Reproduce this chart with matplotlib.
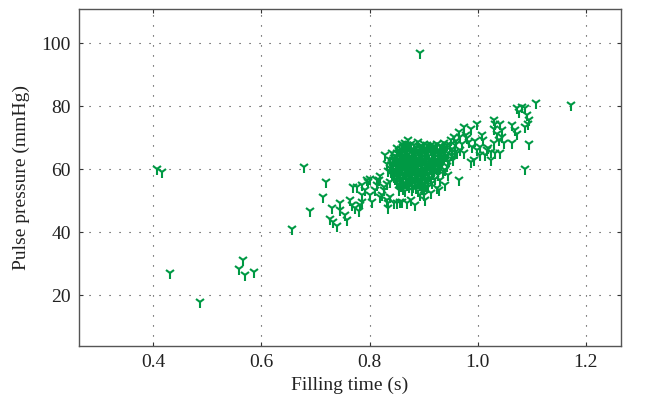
import matplotlib
matplotlib.use('Agg')
import matplotlib.pyplot as plt

# isolated points far from the main cloud
outlier_x = [0.407, 0.416, 0.431, 0.486, 0.559, 0.565, 0.569, 0.586, 0.656, 0.678, 0.894, 1.108, 1.172, 1.087]
outlier_y = [59.9, 59.0, 27.1, 17.7, 28.3, 31.1, 26.4, 27.4, 41.0, 60.7, 96.8, 81.1, 80.3, 60.2]

# lower-left branch leading into the cloud
branch_x = [0.690, 0.714, 0.719, 0.730, 0.746, 0.746, 0.727, 0.733, 0.739, 0.755, 0.758, 0.767, 0.764,
            0.773, 0.780, 0.783, 0.786, 0.776, 0.786, 0.795, 0.801, 0.804, 0.810, 0.813, 0.817, 0.820,
            0.832, 0.838, 0.851, 0.857, 0.869, 0.835, 0.854, 0.832, 0.838, 0.786, 0.792, 0.770, 0.798,
            0.823, 0.826, 0.844, 0.851, 0.828, 0.801, 0.813, 0.826, 0.820, 0.835, 0.845, 0.860, 0.876,
            0.885, 0.900, 0.913, 0.928, 0.940, 0.903, 0.894, 0.924, 0.946, 0.931, 0.872, 0.869, 0.866]
branch_y = [46.8, 51.0, 56.0, 47.5, 49.3, 47.0, 44.3, 43.3, 41.9, 45.4, 43.8, 48.6, 50.2,
            47.5, 46.8, 48.6, 49.6, 54.4, 54.9, 56.5, 51.7, 49.6, 53.3, 54.9, 56.5, 57.8,
            50.2, 51.2, 49.1, 49.6, 49.1, 47.5, 53.3, 55.4, 56.0, 51.7, 53.3, 54.4, 56.0,
            51.7, 53.3, 58.6, 59.1, 64.4, 57.0, 56.5, 54.4, 51.2, 49.1, 49.1, 49.7, 50.2,
            48.6, 51.8, 52.3, 53.4, 55.0, 50.2, 51.7, 53.9, 58.1, 56.5, 69.2, 67.6, 67.1]

# dense core of the cloud
core_x = [0.866, 0.877, 0.889, 0.901, 0.913,
          0.858, 0.869, 0.881, 0.893, 0.905, 0.917, 0.929, 0.940,
          0.850, 0.861, 0.872, 0.884, 0.896, 0.908, 0.921, 0.933, 0.946,
          0.845, 0.856, 0.867, 0.879, 0.890, 0.902, 0.914, 0.926, 0.938,
          0.841, 0.852, 0.864, 0.875, 0.887, 0.898, 0.910, 0.922, 0.934,
          0.838, 0.849, 0.860, 0.872, 0.883, 0.895, 0.906, 0.918, 0.929,
          0.840, 0.851, 0.862, 0.874, 0.885, 0.897, 0.908, 0.920,
          0.845, 0.856, 0.867, 0.879, 0.890, 0.902, 0.913,
          0.851, 0.862, 0.873, 0.885, 0.897, 0.908,
          0.858, 0.869, 0.881, 0.893, 0.904,
          0.866, 0.878, 0.890,
          0.872, 0.883, 0.895, 0.907, 0.919, 0.931,
          0.855, 0.866, 0.878, 0.890, 0.902, 0.914, 0.926, 0.938,
          0.848, 0.859, 0.870, 0.882, 0.893, 0.905, 0.917, 0.929, 0.941,
          0.843, 0.854, 0.865, 0.877, 0.888, 0.900, 0.912, 0.924, 0.935,
          0.839, 0.850, 0.862, 0.873, 0.885, 0.896, 0.908, 0.920, 0.931,
          0.843, 0.854, 0.866, 0.877, 0.889, 0.900, 0.912, 0.924,
          0.842, 0.853, 0.865, 0.876, 0.888, 0.899, 0.911, 0.917,
          0.848, 0.859, 0.871, 0.882, 0.894, 0.905,
          0.855, 0.866, 0.878, 0.889, 0.901,
          0.862, 0.874, 0.886, 0.897,
          0.952, 0.955, 0.948, 0.943, 0.936, 0.927, 0.921, 0.915, 0.908, 0.900,
          0.835, 0.833, 0.838, 0.842, 0.850, 0.860, 0.925, 0.937, 0.949, 0.958]
core_y = [68.4, 67.9, 68.6, 68.0, 67.7,
          66.5, 66.9, 66.3, 67.0, 66.6, 66.8, 66.2, 66.9,
          65.0, 65.4, 64.9, 65.5, 65.1, 65.3, 64.8, 65.4, 65.0,
          63.5, 63.9, 63.4, 64.0, 63.6, 63.8, 63.3, 63.9, 63.5,
          62.0, 62.4, 61.9, 62.5, 62.1, 62.3, 61.8, 62.4, 62.0,
          60.5, 60.9, 60.4, 61.0, 60.6, 60.8, 60.3, 60.9, 60.5,
          59.0, 59.4, 58.9, 59.5, 59.1, 59.3, 58.8, 59.4,
          57.5, 57.9, 57.4, 58.0, 57.6, 57.8, 57.3,
          56.0, 56.4, 55.9, 56.5, 56.1, 56.3,
          54.5, 54.9, 54.4, 55.0, 54.6,
          53.1, 53.5, 53.0,
          67.3, 67.7, 67.4, 67.6, 67.2, 67.5,
          65.8, 66.1, 65.9, 66.2, 65.7, 66.0, 65.8, 66.1,
          64.3, 64.7, 64.4, 64.6, 64.2, 64.7, 64.4, 64.5, 64.3,
          62.8, 63.2, 62.9, 63.1, 62.7, 63.2, 62.9, 63.0, 62.8,
          61.3, 61.7, 61.4, 61.6, 61.2, 61.7, 61.4, 61.5, 61.3,
          59.8, 60.2, 59.9, 60.1, 59.7, 60.2, 59.9, 60.0,
          58.3, 58.7, 58.4, 58.6, 58.2, 58.7, 58.4, 58.5,
          56.8, 57.2, 56.9, 57.1, 56.7, 57.2,
          55.3, 55.7, 55.4, 55.6, 55.2,
          53.8, 54.2, 53.9, 54.1,
          66.5, 64.0, 62.5, 61.0, 59.5, 58.2, 57.0, 55.5, 54.2, 53.0,
          59.5, 61.5, 63.0, 65.0, 66.8, 68.0, 68.0, 68.2, 67.8, 65.6]

# extra points filling the gaps inside the core
fill_x = [0.862, 0.874, 0.886, 0.898, 0.910, 0.922, 0.934,
          0.856, 0.867, 0.879, 0.891, 0.903, 0.915, 0.927, 0.939,
          0.851, 0.862, 0.874, 0.886, 0.898, 0.910, 0.922, 0.934,
          0.846, 0.858, 0.869, 0.881, 0.893, 0.905, 0.917, 0.929,
          0.843, 0.855, 0.867, 0.878, 0.890, 0.902, 0.914, 0.926,
          0.846, 0.858, 0.869, 0.881, 0.893, 0.905, 0.916,
          0.850, 0.862, 0.873, 0.885, 0.897, 0.909,
          0.856, 0.868, 0.879, 0.891, 0.903,
          0.862, 0.874, 0.886, 0.898]
fill_y = [67.0, 67.2, 66.9, 67.3, 67.0, 66.8, 67.1,
          65.5, 65.7, 65.4, 65.8, 65.5, 65.6, 65.3, 65.7,
          64.0, 64.2, 63.9, 64.3, 64.0, 64.1, 63.8, 64.2,
          62.5, 62.7, 62.4, 62.8, 62.5, 62.6, 62.3, 62.7,
          61.0, 61.2, 60.9, 61.3, 61.0, 61.1, 60.8, 61.2,
          59.5, 59.7, 59.4, 59.8, 59.5, 59.6, 59.3,
          58.0, 58.2, 57.9, 58.3, 58.0, 58.1,
          56.5, 56.7, 56.4, 56.8, 56.5,
          55.0, 55.2, 54.9, 55.3]

# upper-right tail of the cloud
tail_x = [1.073, 1.082, 1.076, 1.088, 1.091, 1.096, 1.093, 1.088, 1.064, 1.070, 1.073, 1.095, 1.064,
          1.030, 1.033, 1.042, 1.045, 1.036, 1.030, 1.039, 1.045, 1.048, 1.030, 1.024, 1.033, 1.042,
          1.024, 1.020, 1.005, 1.008, 0.999, 0.987, 0.974, 0.965, 0.968, 0.980, 0.990, 0.999, 1.005,
          0.993, 0.987, 1.014, 1.017, 0.956, 0.950, 0.943, 0.959, 0.968, 0.974, 0.953, 0.937, 0.946,
          0.962, 0.931, 0.940, 0.965, 0.960, 0.972, 0.984, 0.996, 1.010, 0.978, 0.955]
tail_y = [79.3, 79.8, 78.2, 79.3, 77.2, 75.6, 74.5, 73.5, 74.0, 72.4, 71.3, 68.0, 68.2,
          75.6, 74.5, 74.5, 72.4, 71.3, 72.9, 69.2, 70.3, 68.2, 68.2, 65.5, 65.0, 65.0,
          62.9, 66.6, 67.1, 70.8, 74.5, 72.9, 73.5, 71.9, 70.3, 69.8, 67.1, 66.0, 64.5,
          62.9, 62.4, 64.5, 66.0, 70.3, 69.2, 67.6, 67.6, 66.0, 65.0, 64.5, 63.9, 62.3,
          65.0, 60.8, 59.7, 56.5, 68.8, 67.9, 68.6, 68.9, 69.4, 71.0, 62.8]

x_ticks = [0.4, 0.6, 0.8, 1.0, 1.2]
y_ticks = [20, 40, 60, 80, 100]

plt.rcParams['font.family'] = ['Liberation Serif', 'DejaVu Serif']

fig = plt.figure(figsize=(6.48, 4.03), dpi=100)
ax = fig.add_axes([0.1224, 0.1422, 0.8356, 0.8348])

green = '#009944'
groups = [(outlier_x, outlier_y), (branch_x, branch_y), (core_x, core_y),
          (fill_x, fill_y), (tail_x, tail_y)]
for xs, ys in groups:
    ax.plot(xs, ys, linestyle='none', marker='1', ms=8, mew=1.5, color=green)

ax.set_xlim(0.263, 1.265)
ax.set_ylim(3.9, 110.8)
ax.set_xticks(x_ticks)
ax.set_xticklabels(['0.4', '0.6', '0.8', '1.0', '1.2'])
ax.set_yticks(y_ticks)

ax.grid(True, color='#333333', linestyle=(0, (1, 8)), linewidth=0.8)
ax.tick_params(direction='in', length=3, width=0.8, colors='#333333', labelsize=14,
               labelcolor='#222222', top=True, right=True, pad=6)
for s in ax.spines.values():
    s.set_color('#555555')
    s.set_linewidth(1.0)

ax.set_xlabel('Filling time (s)', fontsize=14, color='#222222', labelpad=4)
ax.set_ylabel('Pulse pressure (mmHg)', fontsize=14, color='#222222', labelpad=8)

fig.savefig('out.png', dpi=100)
